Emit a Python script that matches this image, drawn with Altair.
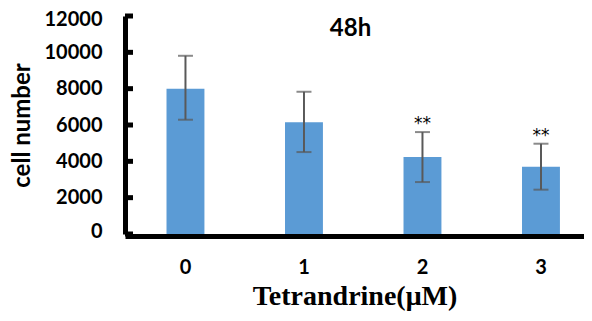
import altair as alt
import pandas as pd

doses = ["0", "1", "2", "3"]
cells = [8000, 6150, 4240, 3700]
err_hi = [9810, 7830, 5610, 4970]
err_lo = [6290, 4510, 2860, 2440]
sig = ["", "", "**", "**"]
y_ticks = [0, 2000, 4000, 6000, 8000, 10000, 12000]

df = pd.DataFrame({"dose": doses, "cells": cells, "hi": err_hi, "lo": err_lo, "sig": sig})
ticks_df = pd.DataFrame({"t": y_ticks})

W = 459
xscale = alt.Scale(domain=doses, paddingInner=0.68, paddingOuter=0.2767, align=0.633)
yscale = alt.Scale(domain=[0, 12000], nice=False)

base = alt.Chart(df)

bars = base.mark_bar(color="#5B9BD5").encode(
    x=alt.X("dose:N", scale=xscale, sort=doses,
            axis=alt.Axis(title="Tetrandrine(μM)", labelAngle=0, ticks=False, offset=2,
                          domainColor="black", domainWidth=5,
                          labelFont="Lato", labelFontWeight="bold", labelFontSize=20,
                          labelColor="black", labelPadding=21,
                          titleFont="Liberation Serif", titleFontWeight="bold",
                          titleFontSize=28, titleColor="black", titlePadding=5)),
    y=alt.Y("cells:Q", scale=yscale,
            axis=alt.Axis(title="cell number", values=y_ticks, format="d", grid=False, ticks=False,
                          domainColor="black", domainWidth=5,
                          labelFont="Lato", labelFontWeight="bold", labelFontSize=20,
                          labelColor="black", labelPadding=23,
                          labelFlush=True, labelFlushOffset=7,
                          titleFont="Lato", titleFontWeight="bold", titleFontSize=24,
                          titleColor="black", titlePadding=10)),
)

yticks = alt.Chart(ticks_df).mark_rule(color="black", strokeWidth=5).encode(
    y=alt.Y("t:Q", scale=yscale, axis=None),
    x=alt.value(0), x2=alt.value(8),
)

rules = base.mark_rule(color="#595959", strokeWidth=2).encode(
    x=alt.X("dose:N", scale=xscale, sort=doses),
    y=alt.Y("lo:Q", scale=yscale, axis=None),
    y2="hi:Q",
)

caps_hi = base.mark_tick(color="#595959", size=15, thickness=2).encode(
    x=alt.X("dose:N", scale=xscale, sort=doses),
    y=alt.Y("hi:Q", scale=yscale, axis=None))
caps_lo = base.mark_tick(color="#595959", size=15, thickness=2).encode(
    x=alt.X("dose:N", scale=xscale, sort=doses),
    y=alt.Y("lo:Q", scale=yscale, axis=None))

stars = base.mark_text(font="DejaVu Sans", fontSize=17, color="black",
                       baseline="alphabetic", dy=-3).encode(
    x=alt.X("dose:N", scale=xscale, sort=doses),
    y=alt.Y("hi:Q", scale=yscale, axis=None), text="sig:N")

chart = alt.layer(bars, yticks, rules, caps_hi, caps_lo, stars).resolve_axis(
    y="independent"
).properties(
    width=W, height=218,
    title=alt.TitleParams("48h", font="Lato", fontWeight="bold", fontSize=24,
                          color="black", anchor="middle", offset=-32, dx=-4),
    autosize=alt.AutoSizeParams(type="none"),
    padding={"left": 117, "top": 8, "right": 0, "bottom": 79},
).configure_view(stroke=None)

chart.save("out.html", embed_options={"renderer": "svg", "actions": False})
